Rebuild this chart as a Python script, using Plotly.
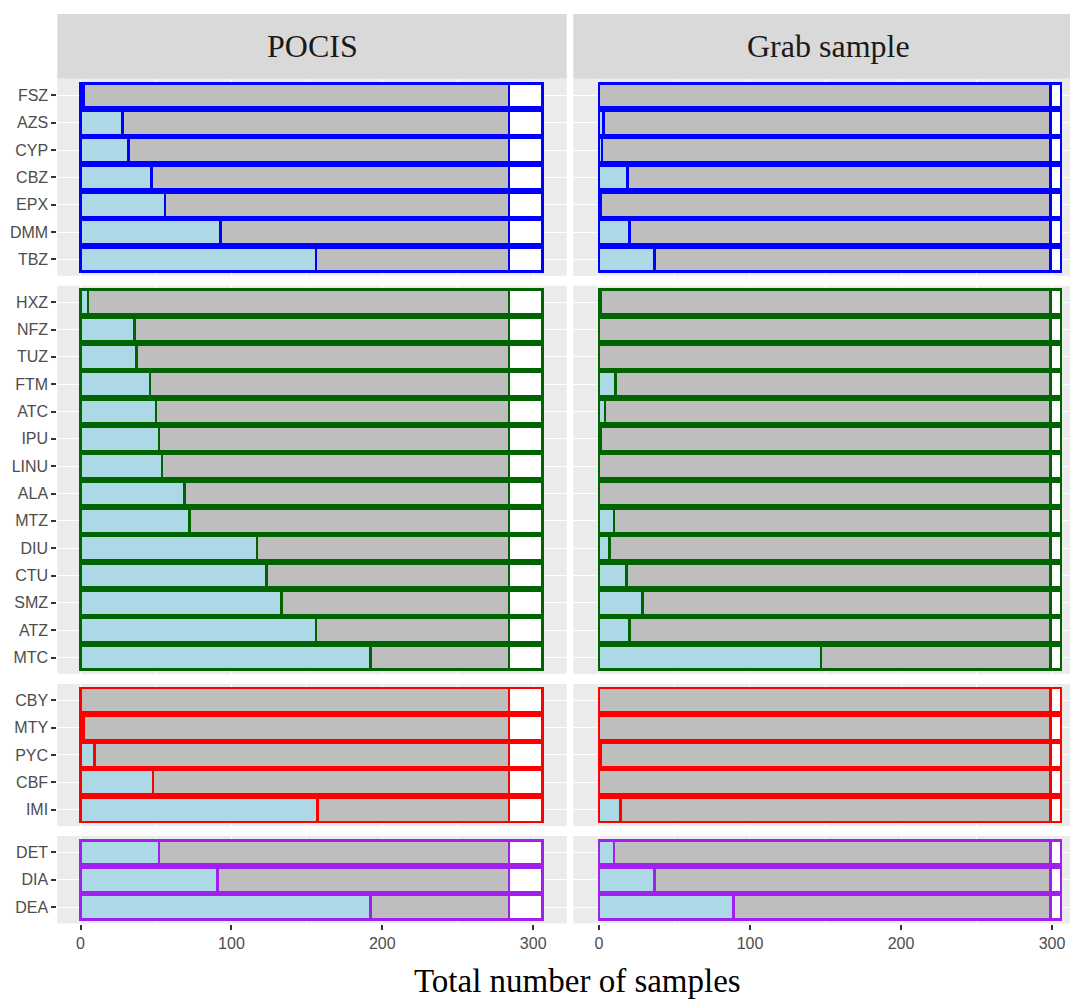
import plotly.graph_objects as go

# ---------------- data ----------------
facet_titles = ["POCIS", "Grab sample"]
x_tick_values = [0, 100, 200, 300]
x_axis_title = "Total number of samples"

total_samples = 306
pocis_analysed = 284
grab_analysed = 299

group1_compounds = ["FSZ", "AZS", "CYP", "CBZ", "EPX", "DMM", "TBZ"]
group1_pocis_detected = [2, 28, 32, 47, 56, 93, 156]
group1_grab_detected = [0, 3, 2, 19, 1, 20, 37]

group2_compounds = ["HXZ", "NFZ", "TUZ", "FTM", "ATC", "IPU", "LINU",
                    "ALA", "MTZ", "DIU", "CTU", "SMZ", "ATZ", "MTC"]
group2_pocis_detected = [5, 36, 37, 46, 50, 52, 54, 69, 72, 117, 123, 133, 156, 192]
group2_grab_detected = [1, 0, 0, 11, 4, 1, 0, 0, 10, 7, 18, 29, 20, 147]

group3_compounds = ["CBY", "MTY", "PYC", "CBF", "IMI"]
group3_pocis_detected = [0, 2, 9, 48, 157]
group3_grab_detected = [0, 0, 1, 0, 14]

group4_compounds = ["DET", "DIA", "DEA"]
group4_pocis_detected = [52, 91, 192]
group4_grab_detected = [10, 37, 89]

group_colors = ["#0000FF", "#006400", "#FF0000", "#A020F0"]
detected_color = "#ADD8E6"
nondetected_color = "#BEBEBE"
missing_color = "#FFFFFF"

groups = [
    (group1_compounds, group1_pocis_detected, group1_grab_detected),
    (group2_compounds, group2_pocis_detected, group2_grab_detected),
    (group3_compounds, group3_pocis_detected, group3_grab_detected),
    (group4_compounds, group4_pocis_detected, group4_grab_detected),
]
analysed = [pocis_analysed, grab_analysed]

# ---------------- layout geometry (screen pixels) ----------------
W, H = 1070, 1001
col_px = [(57.3, 566.7), (573.3, 1070.0)]
x_ranges = [[-15.4, 322.2], [-17.0, 311.9]]
row_px = [(79.0, 275.8), (285.8, 673.9), (683.9, 826.0), (836.0, 923.5)]
strip_px = (14.0, 78.7)


def fx(p):
    return p / W


def fy(p):
    return 1 - p / H


fig = go.Figure()
layout = {}
tick_font = dict(family="Liberation Sans, Arial, sans-serif", size=16, color="#4D4D4D")

for r, (comps, pocis_det, grab_det) in enumerate(groups):
    n = len(comps)
    for c in range(2):
        k = r * 2 + c + 1
        suffix = "" if k == 1 else str(k)
        det = pocis_det if c == 0 else grab_det
        nondet = [analysed[c] - d for d in det]
        missing = [total_samples - analysed[c] for _ in det]
        col = group_colors[r]
        for vals, fill in ((det, detected_color), (nondet, nondetected_color), (missing, missing_color)):
            fig.add_trace(go.Bar(
                x=vals, y=comps, orientation="h", width=0.9,
                marker=dict(color=fill, line=dict(color=col, width=2.8)),
                xaxis="x" + suffix, yaxis="y" + suffix,
                showlegend=False, hoverinfo="x+y",
            ))
        bottom = (r == len(groups) - 1)
        layout["xaxis" + suffix] = dict(
            domain=[max(0, fx(col_px[c][0])), min(1, fx(col_px[c][1]))],
            anchor="y" + suffix,
            range=x_ranges[c],
            tickvals=x_tick_values,
            showticklabels=bottom,
            ticks="outside" if bottom else "",
            ticklen=5, tickwidth=2, tickcolor="#333333",
            tickfont=tick_font,
            showgrid=True, gridcolor="#FFFFFF", gridwidth=1.4,
            minor=dict(tickvals=[50, 150, 250], showgrid=True, gridcolor="#FFFFFF", gridwidth=0.7),
            zeroline=False, showline=False, automargin=False,
            fixedrange=True,
        )
        layout["yaxis" + suffix] = dict(
            domain=[fy(row_px[r][1]), fy(row_px[r][0])],
            anchor="x" + suffix,
            type="category",
            categoryorder="array", categoryarray=comps,
            range=[n - 0.4, -0.6],
            showticklabels=(c == 0),
            ticks="outside" if c == 0 else "",
            ticklen=5, tickwidth=2, tickcolor="#333333",
            tickfont=tick_font,
            showgrid=True, gridcolor="#FFFFFF", gridwidth=1.4,
            zeroline=False, showline=False, automargin=False,
            fixedrange=True,
        )

shapes = []
annotations = []
for c in range(2):
    shapes.append(dict(
        type="rect", xref="paper", yref="paper",
        x0=fx(col_px[c][0]), x1=min(1, fx(col_px[c][1])),
        y0=fy(strip_px[1]), y1=fy(strip_px[0]),
        fillcolor="#D9D9D9", line=dict(width=0), layer="below",
    ))
strip_centers = [(57.3 + 566.7) / 2, 828.5]
for c in range(2):
    annotations.append(dict(
        text=facet_titles[c], xref="paper", yref="paper",
        x=fx(strip_centers[c]), y=fy((strip_px[0] + strip_px[1]) / 2),
        xanchor="center", yanchor="middle", showarrow=False,
        font=dict(family="Liberation Serif, Times New Roman, serif", size=32, color="#1A1A1A"),
    ))
annotations.append(dict(
    text=x_axis_title, xref="paper", yref="paper",
    x=fx(577), y=fy(981), xanchor="center", yanchor="middle", showarrow=False,
    font=dict(family="Liberation Serif, Times New Roman, serif", size=33, color="#000000"),
))

fig.update_layout(
    width=W, height=H,
    margin=dict(l=0, r=0, t=0, b=0),
    paper_bgcolor="#FFFFFF", plot_bgcolor="#EBEBEB",
    barmode="stack",
    showlegend=False,
    hovermode=False,
    shapes=shapes, annotations=annotations,
    **layout,
)

fig.write_html(
    "out.html",
    config={"displayModeBar": False},
    post_script=(
        "document.body.style.margin='0';"
        "document.documentElement.style.overflow='hidden';"
        "document.body.style.overflow='hidden';"
    ),
)
